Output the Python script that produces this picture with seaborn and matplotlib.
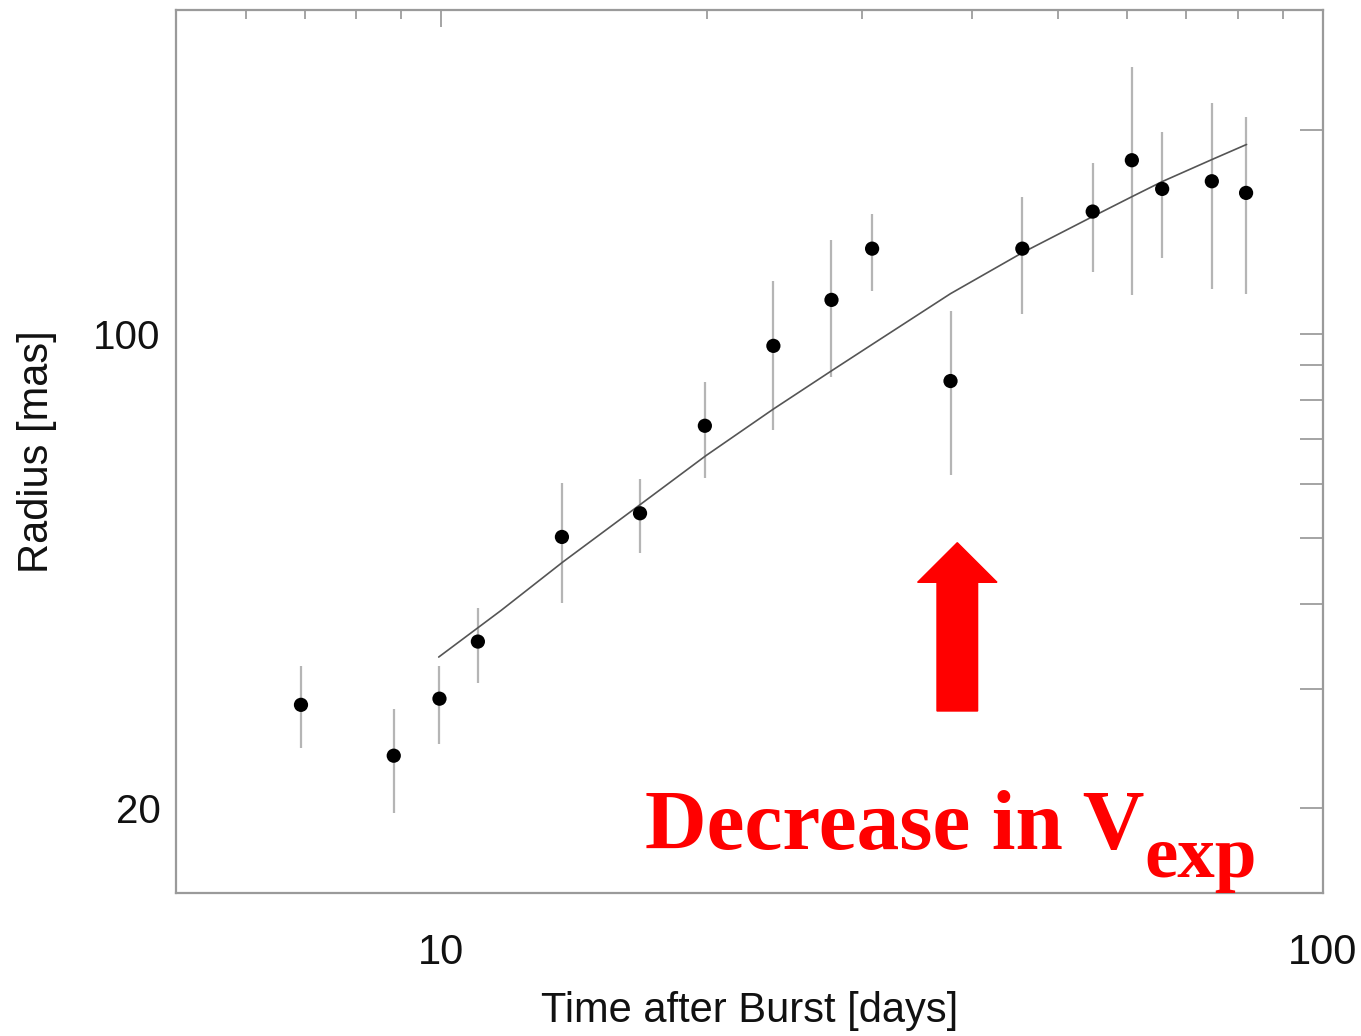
import numpy as np
import pandas as pd
import seaborn as sns
import matplotlib
matplotlib.use("Agg")
import matplotlib.pyplot as plt
from matplotlib.patches import FancyArrow

# measured radii (days, mas) with error bar limits
days = [6.93, 8.83, 9.95, 11.0, 13.7, 16.8, 19.9, 23.8, 27.7, 30.8,
        37.8, 45.6, 54.8, 60.7, 65.7, 74.8, 81.8]
radius = [28.4, 23.9, 29.0, 35.2, 50.2, 54.4, 73.2, 96.0, 112.2, 133.5,
          85.2, 133.5, 151.4, 180.2, 163.5, 167.8, 161.3]
radius_hi = [32.4, 28.0, 32.4, 39.5, 60.2, 61.1, 85.0, 119.7, 137.6, 150.4,
             108.1, 159.3, 178.8, 247.0, 198.0, 219.0, 208.4]
radius_lo = [24.5, 19.7, 24.9, 30.6, 40.1, 47.5, 61.3, 72.2, 86.4, 115.7,
             61.9, 107.0, 123.4, 114.2, 129.5, 116.5, 114.6]

# model curve
fit_days = [9.93, 11.68, 13.73, 16.83, 19.94, 23.81, 27.70, 30.74, 37.80,
            45.61, 54.76, 60.74, 65.7, 74.8, 81.9]
fit_radius = [33.4, 39.1, 46.1, 56.1, 66.1, 77.5, 88.2, 96.3, 114.6,
              131.7, 148.8, 159.3, 167.6, 180.6, 190.1]

x_major = [10, 100]
x_minor = [5, 6, 7, 8, 9, 20, 30, 40, 50, 60, 70, 80, 90]
y_major = [20, 100]
y_minor = [30, 40, 50, 60, 70, 80, 90, 200]

df = pd.DataFrame({"days": days, "radius": radius})
fit = pd.DataFrame({"days": fit_days, "radius": fit_radius})

sns.set_style("white")
plt.rcParams["font.family"] = ["Liberation Sans", "DejaVu Sans"]

W, H = 1361, 1036
fig = plt.figure(figsize=(W / 100, H / 100), dpi=100)
ax = fig.add_axes([176 / W, 1 - 893 / H, (1323 - 176) / W, (893 - 10) / H])

ax.set_xscale("log")
ax.set_yscale("log")

ax.vlines(days, radius_lo, radius_hi, color="#b5b5b5", lw=1.6, zorder=1)
sns.lineplot(data=fit, x="days", y="radius", ax=ax, color="#555555", lw=1.2,
             zorder=2, sort=False)
sns.scatterplot(data=df, x="days", y="radius", ax=ax, color="black", s=105,
                edgecolor="none", zorder=3)

ax.set_xlim(5, 100)
ax.set_ylim(15, 300)

ax.set_xticks(x_major, [str(v) for v in x_major])
ax.set_xticks(x_minor, minor=True)
ax.set_xticklabels([], minor=True)
ax.set_yticks(y_major, [str(v) for v in y_major])
ax.set_yticks(y_minor, minor=True)
ax.set_yticklabels([], minor=True)

ax.tick_params(axis="both", which="both", direction="in", top=True, right=True,
               color="#8c8c8c", width=1.1, labelcolor="#111111")
ax.tick_params(axis="x", which="major", length=12, pad=29, labelsize=30)
ax.tick_params(axis="x", which="minor", length=6.5)
ax.tick_params(axis="y", which="both", length=16.5, pad=11, labelsize=29)

for s in ax.spines.values():
    s.set_color("#9a9a9a")
    s.set_linewidth(1.6)

ax.set_xlabel("Time after Burst [days]", fontsize=30, color="#111111")
ax.set_ylabel("Radius [mas]", fontsize=30, color="#111111")
ax.xaxis.set_label_coords(0.5, -0.111)
ax.yaxis.set_label_coords(-0.104, 0.5)

# red annotation arrow and text
arrow = FancyArrow(957.3 / W, 1 - 711 / H, 0, (711 - 542.7) / H,
                   width=40.6 / W, head_width=79.4 / W,
                   head_length=(582.3 - 542.7) / H, length_includes_head=True,
                   color="red", transform=fig.transFigure, zorder=5)
fig.patches.append(arrow)

fig.text(645 / W, 1 - 849 / H, "Decrease in V", color="red", fontsize=61.5,
         fontweight="bold", family=["Liberation Serif", "DejaVu Serif"],
         ha="left", va="baseline")
fig.text(1144 / W, 1 - 877 / H, "exp", color="red", fontsize=54,
         fontweight="bold", family=["Liberation Serif", "DejaVu Serif"],
         ha="left", va="baseline")

fig.savefig("out.png", dpi=100)
